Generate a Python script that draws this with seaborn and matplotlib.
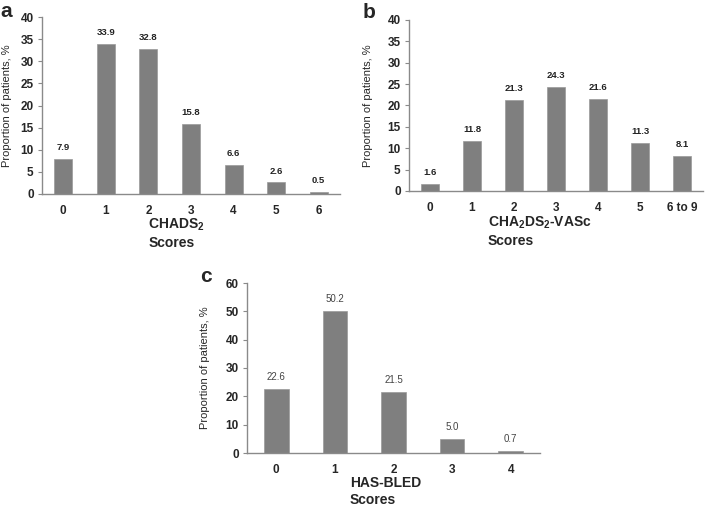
import matplotlib
matplotlib.use("Agg")
import matplotlib.pyplot as plt
import seaborn as sns

# ---- data ----
chads_cats = ["0", "1", "2", "3", "4", "5", "6"]
chads_vals = [7.9, 33.9, 32.8, 15.8, 6.6, 2.6, 0.5]

vasc_cats = ["0", "1", "2", "3", "4", "5", "6 to 9"]
vasc_vals = [1.6, 11.8, 21.3, 24.3, 21.6, 11.3, 8.1]

hasbled_cats = ["0", "1", "2", "3", "4"]
hasbled_vals = [22.6, 50.2, 21.5, 5.0, 0.7]

sns.set_theme(style="white")
plt.rcParams["font.family"] = ["Liberation Sans", "DejaVu Sans"]
plt.rcParams["mathtext.fontset"] = "custom"
plt.rcParams["mathtext.rm"] = "Liberation Sans"
plt.rcParams["mathtext.bf"] = "Liberation Sans:bold"

W, H = 709, 507
fig = plt.figure(figsize=(W / 100, H / 100), dpi=100)

BAR = "#7f7f7f"
SPINE = "#8a8a8a"


def make_ax(x0, x1, ytop, ybot):
    return fig.add_axes([x0 / W, 1 - ybot / H, (x1 - x0) / W, (ybot - ytop) / H])


def panel(ax, cats, vals, ymax, ystep, lines, lab_bold, ylab_x):
    sns.barplot(x=cats, y=vals, order=cats, color=BAR, saturation=1,
                width=0.42, ax=ax, edgecolor="#9a9a9a", linewidth=0.5)
    ax.set_xlim(-0.5, len(cats) - 0.5)
    ax.set_ylim(0, ymax)
    ax.set_yticks(range(0, ymax + 1, ystep))
    for s in ["top", "right"]:
        ax.spines[s].set_visible(False)
    for s in ["left", "bottom"]:
        ax.spines[s].set_color(SPINE)
        ax.spines[s].set_linewidth(1.0)
    ax.tick_params(axis="y", which="major", left=True, length=3, width=0.8,
                   color=SPINE, pad=3, labelsize=8.5)
    ax.tick_params(axis="x", bottom=False, pad=2, labelsize=8.5)
    for t in ax.get_yticklabels() + ax.get_xticklabels():
        t.set_fontweight("bold")
    ax.set_ylabel("Proportion of patients, %", fontsize=8)
    ax.yaxis.set_label_coords(ylab_x, 0.5)
    ax.set_xlabel("")
    if lab_bold:
        ax.bar_label(ax.containers[0], fmt="%.1f", padding=5, fontsize=6.8,
                     fontweight="bold", color="#222222")
    else:
        ax.bar_label(ax.containers[0], fmt="%.1f", padding=5, fontsize=7,
                     color="#444444")
    for (px, py, txt) in lines:
        fig.text(px / W, 1 - py / H, txt, ha="left", va="baseline",
                 fontsize=10, fontweight="bold")


ax_a = make_ax(42, 340, 17, 194)
panel(ax_a, chads_cats, chads_vals, 40, 5,
      [(148, 229, "CHADS$_\\mathbf{2}$"), (149, 247, "Scores")], True, -0.10)

ax_b = make_ax(409, 703, 20, 191)
panel(ax_b, vasc_cats, vasc_vals, 40, 5,
      [(488, 227, "CHA$_\\mathbf{2}$DS$_\\mathbf{2}$-VASc"), (488, 245, "Scores")],
      True, -0.122)

ax_c = make_ax(247, 540, 283, 453)
panel(ax_c, hasbled_cats, hasbled_vals, 60, 10,
      [(350, 487, "HAS-BLED"), (350, 504, "Scores")], False, -0.126)

fig.text(0 / W, 1 - 17 / H, "a", fontsize=15, fontweight="bold", va="baseline")
fig.text(363 / W, 1 - 18 / H, "b", fontsize=15, fontweight="bold", va="baseline")
fig.text(200 / W, 1 - 282 / H, "c", fontsize=15, fontweight="bold", va="baseline")

fig.savefig("out.png", dpi=100)
